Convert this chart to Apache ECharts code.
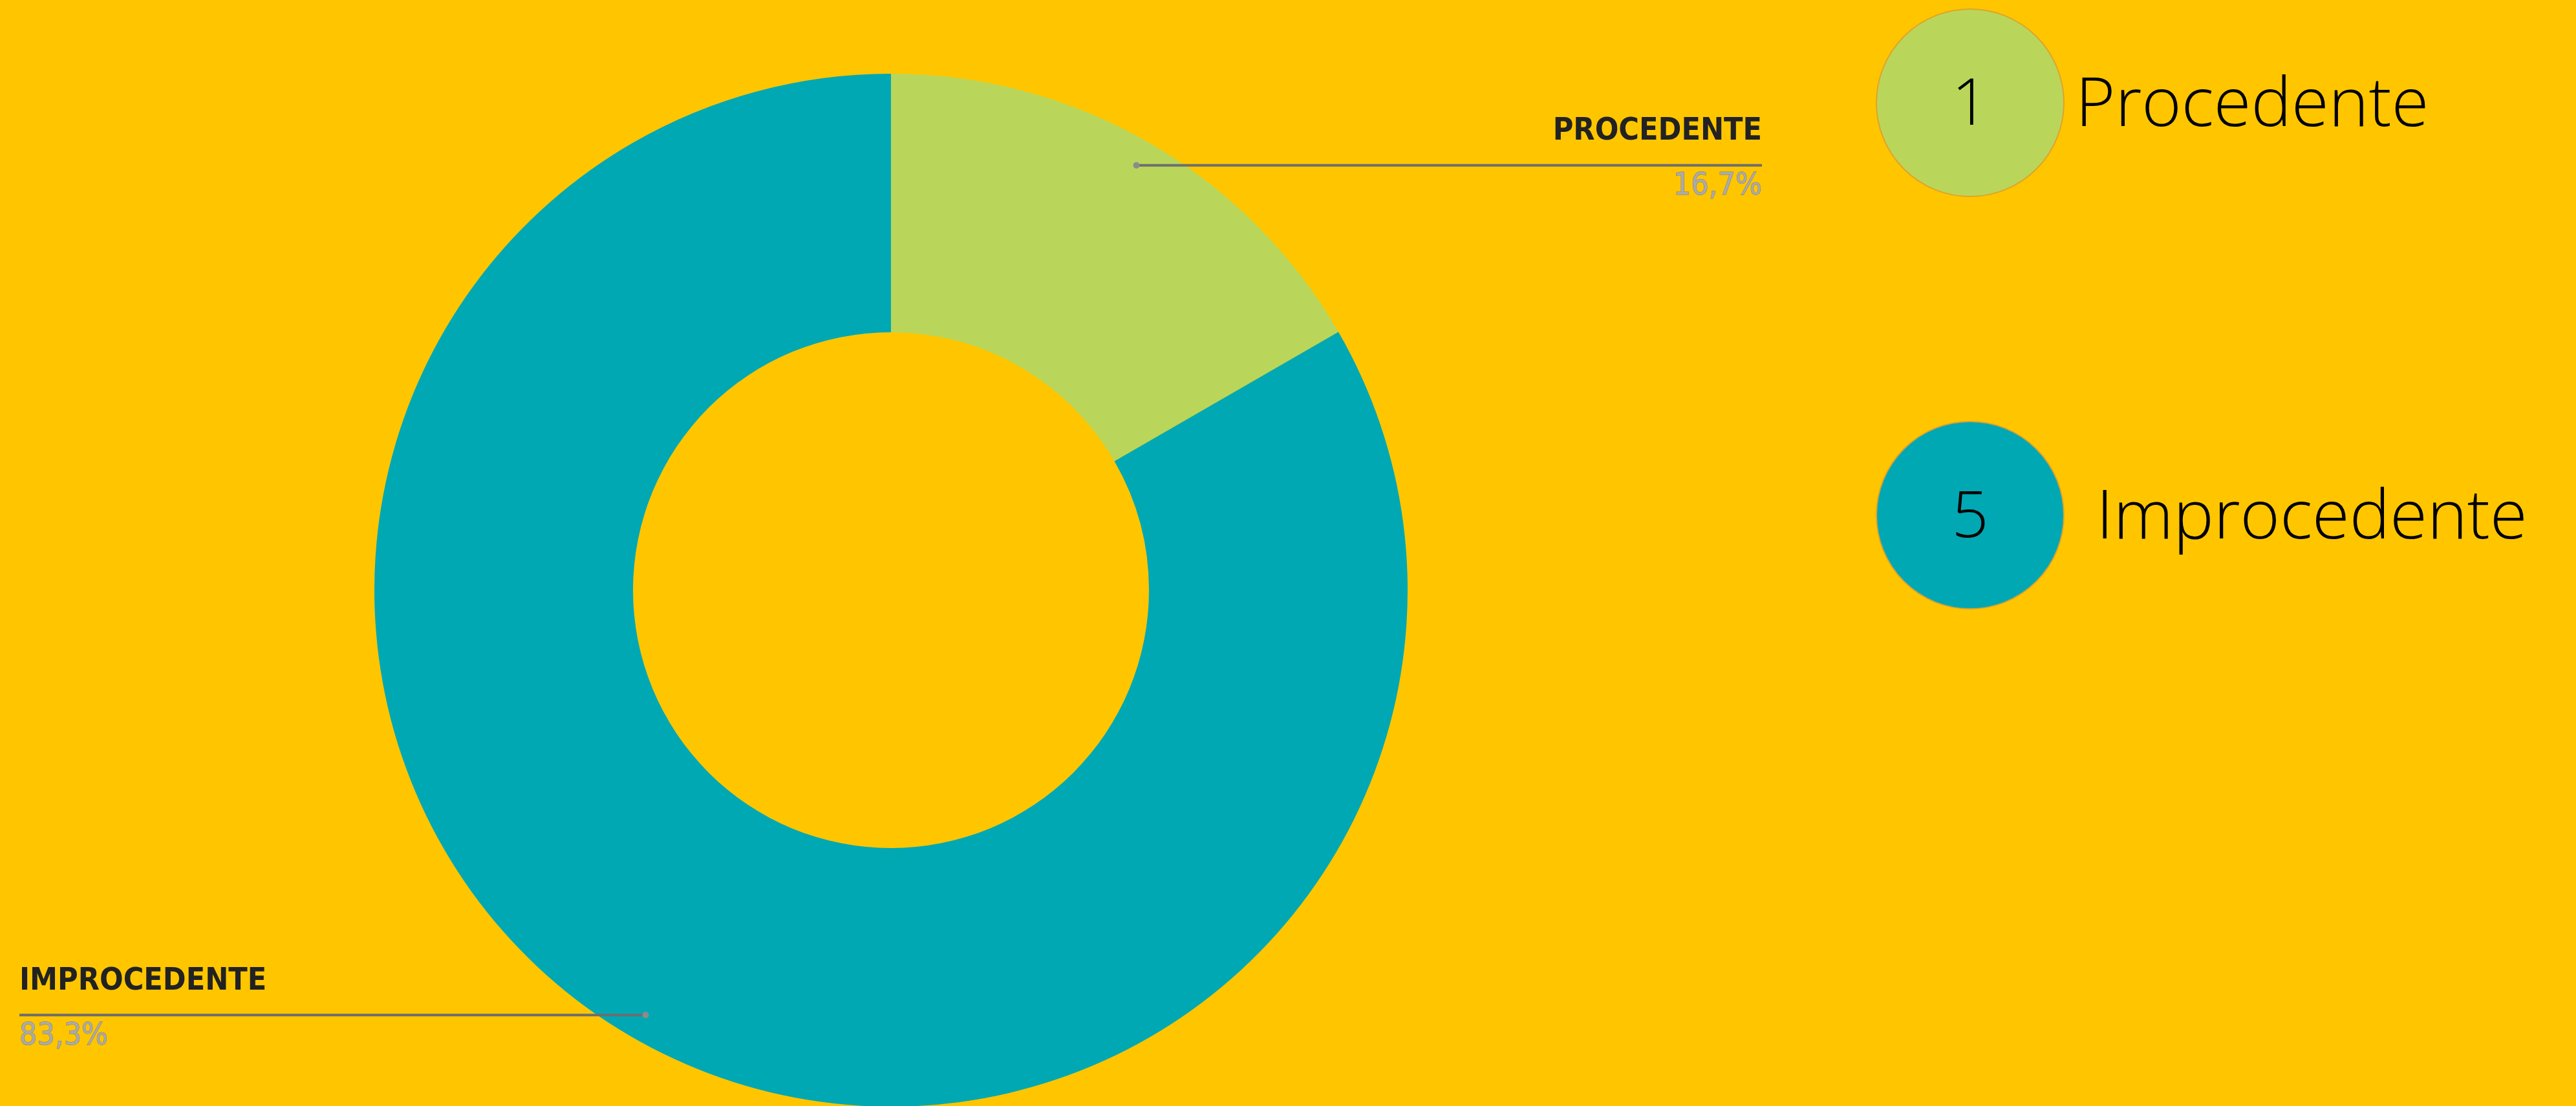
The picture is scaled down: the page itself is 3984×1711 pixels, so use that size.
<!DOCTYPE html>
<html>
<head>
<meta charset="utf-8">
<script src="https://cdn.jsdelivr.net/npm/echarts@6/dist/echarts.min.js"></script>
<style>
  html, body { margin: 0; padding: 0; background: #FFC600; }
  #chart { width: 3984px; height: 1711px; }
</style>
</head>
<body>
<div id="chart"></div>
<script>
// ---- data ----
const categories = ['Procedente', 'Improcedente'];
const counts = [1, 5];

// ---- styles / layout (kept apart from data) ----
const sliceColors = ['#B9D65A', '#00A8B4'];
const bgColor = '#FFC600';
const legendCenterX = 3047;
const legendCenterY = [159, 797];
const legendNameX = [3210, 3242];
const legendRadius = 145;
const labelFont = "'Liberation Sans Narrow', 'DejaVu Sans Condensed', 'Roboto Condensed', 'Liberation Sans', sans-serif";
const legendFont = "'Open Sans', 'Noto Sans', sans-serif";
const rightEdgeX = 2725;
const leftEdgeX = 30;

const chart = echarts.init(document.getElementById('chart'), null, { renderer: 'canvas' });

const pieData = categories.map((c, i) => ({
  name: c,
  value: counts[i],
  itemStyle: { color: sliceColors[i] }
}));

const LEN = 40;

const graphics = [];
categories.forEach((c, i) => {
  graphics.push({
    type: 'circle',
    shape: { cx: legendCenterX, cy: legendCenterY[i], r: legendRadius },
    style: { fill: sliceColors[i], stroke: '#E0A32A', lineWidth: 2 }
  });
  graphics.push({
    type: 'text',
    x: legendCenterX,
    y: legendCenterY[i] + 6,
    style: {
      text: String(counts[i]),
      fontSize: 100, fontWeight: 300, fontFamily: legendFont,
      fill: '#000', align: 'center', verticalAlign: 'middle'
    }
  });
  graphics.push({
    type: 'text',
    x: legendNameX[i],
    y: legendCenterY[i] + 6,
    style: {
      text: c,
      fontSize: 105, fontWeight: 300, fontFamily: legendFont,
      fill: '#000', align: 'left', verticalAlign: 'middle'
    }
  });
});

chart.setOption({
  backgroundColor: bgColor,
  animation: false,
  graphic: graphics,
  series: [{
    type: 'pie',
    center: [1378, 913],
    radius: [399, 799],
    startAngle: 90,
    clockwise: true,
    avoidLabelOverlap: false,
    data: pieData,
    label: {
      show: true,
      position: 'outside',
      formatter: function (p) {
        const pct = p.percent.toFixed(1).replace('.', ',') + '%';
        return '{n|' + p.name.toUpperCase() + '}\n{p|' + pct + '}';
      },
      rich: {
        n: {
          fontFamily: labelFont, fontSize: 48, fontWeight: 'bold',
          color: '#222222', lineHeight: 66
        },
        p: {
          fontFamily: labelFont, fontSize: 48, fontWeight: 'normal',
          color: '#ABABAB', textBorderColor: '#7A7A7A', textBorderWidth: 1,
          lineHeight: 104
        }
      }
    },
    labelLine: {
      show: true,
      length: LEN,
      length2: 10,
      smooth: false,
      lineStyle: { color: '#6E6E6E', width: 4 }
    },
    labelLayout: function (params) {
      const pts = params.labelLinePoints;
      if (!pts) return {};
      const p0 = pts[0], p1 = pts[1];
      // start point lies LEN inside the outer edge, on the mid-angle ray
      const sx = 2 * p0[0] - p1[0];
      const sy = 2 * p0[1] - p1[1];
      const isRight = p1[0] >= p0[0];
      const ex = isRight ? rightEdgeX : leftEdgeX;
      return {
        x: ex,
        y: sy,
        align: isRight ? 'right' : 'left',
        verticalAlign: 'middle',
        labelLinePoints: [[sx, sy], [sx, sy], [ex, sy]]
      };
    }
  }]
});

// bring the leader lines above the slices and mark their start with a small dot
(function raiseGuideLines() {
  const zr = chart.getZr();
  const list = zr.storage.getDisplayList(true);
  list.forEach(function (el) {
    if (el.type === 'polyline') {
      el.z = 50;
      el.markRedraw && el.markRedraw();
      const pts = el.shape && el.shape.points;
      if (pts && pts.length) {
        zr.add(new echarts.graphic.Circle({
          shape: { cx: pts[0][0], cy: pts[0][1], r: 5 },
          style: { fill: '#8C8C8C' },
          z: 51,
          silent: true
        }));
      }
    }
  });
  zr.refresh();
})();
</script>
</body>
</html>
